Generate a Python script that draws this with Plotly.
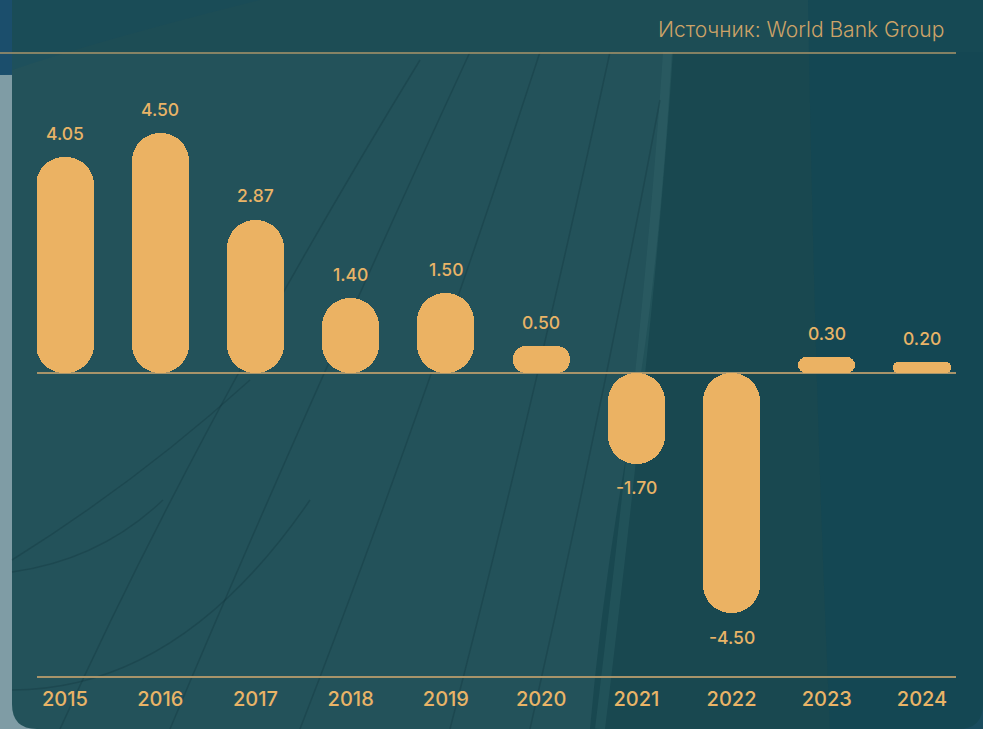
import plotly.graph_objects as go

# Data
years = ["2015", "2016", "2017", "2018", "2019", "2020", "2021", "2022", "2023", "2024"]
values = [4.05, 4.50, 2.87, 1.40, 1.50, 0.50, -1.70, -4.50, 0.30, 0.20]
source_text = "Источник: World Bank Group"

# Canvas / layout geometry (pixels)
W, H = 983, 729
L, R, T, B = 37, 27, 53, 53
PW, PH = W - L - R, H - T - B
Y_RANGE = [-5.68, 6.0]
X_RANGE = [-0.294, 9.357]
BAR_W = 0.6

BAR_COLOR = "#EBB263"
TEXT_COLOR = "#E9B467"
LINE_COLOR = "#A8946A"
FONT = "Inter"

px_per_y = PH / (Y_RANGE[1] - Y_RANGE[0])
px_per_x = PW / (X_RANGE[1] - X_RANGE[0])
bar_px = BAR_W * px_per_x


def fx(x):
    return (x - L) / PW


def fy(y):
    return (T + PH - y) / PH


def path(points, close=True):
    s = "M {:.5f},{:.5f}".format(fx(points[0][0]), fy(points[0][1]))
    for p in points[1:]:
        if len(p) == 4:
            s += " Q {:.5f},{:.5f} {:.5f},{:.5f}".format(fx(p[0]), fy(p[1]), fx(p[2]), fy(p[3]))
        else:
            s += " L {:.5f},{:.5f}".format(fx(p[0]), fy(p[1]))
    return s + (" Z" if close else "")


fig = go.Figure()

# Pill-shaped bars: an explicit base makes both ends rounded
for yr, v in zip(years, values):
    r = min(bar_px / 2, abs(v) * px_per_y / 2)
    fig.add_trace(go.Bar(
        x=[yr],
        y=[v],
        base=[0],
        width=BAR_W,
        marker=dict(color=BAR_COLOR, line=dict(width=0), cornerradius=r),
        hoverinfo="skip",
        showlegend=False,
    ))

# Value labels
for i, v in enumerate(values):
    fig.add_annotation(
        x=i, y=v, text=f"{v:.2f}", showarrow=False,
        yshift=24 if v > 0 else -24, yanchor="middle",
        font=dict(family=FONT, size=17.5, color=TEXT_COLOR, weight=500),
    )

# Source caption
fig.add_annotation(
    xref="paper", yref="paper", x=fx(946), y=fy(30), xanchor="right", yanchor="middle",
    text=source_text, showarrow=False,
    font=dict(family=FONT, size=21, color="#CDA368", weight=300),
)

shapes = []
# Backdrop outside the panel
shapes.append(dict(type="path", xref="paper", yref="paper", layer="below",
                   path=path([(0, 0), (983, 0), (983, 70), (0, 75)]),
                   fillcolor="#1B4E6C", line=dict(width=0)))
shapes.append(dict(type="path", xref="paper", yref="paper", layer="below",
                   path=path([(940, 640), (983, 640), (983, 729), (940, 729)]),
                   fillcolor="#3E6F9A", line=dict(width=0)))
# Panel
shapes.append(dict(type="path", xref="paper", yref="paper", layer="below",
                   path=path([(12, 0), (983, 0), (983, 704), (983, 729, 958, 729),
                              (37, 729), (12, 729, 12, 704)]),
                   fillcolor="#23525A", line=dict(width=0)))
# Bluish top-left corner of the panel
shapes.append(dict(type="path", xref="paper", yref="paper", layer="below",
                   path=path([(12, 0), (260, 0), (100, 40, 12, 70)]),
                   fillcolor="rgba(20,75,100,0.3)", line=dict(width=0)))
# Top band, slightly darker
shapes.append(dict(type="path", xref="paper", yref="paper", layer="below",
                   path=path([(12, 0), (983, 0), (983, 52), (12, 52)]),
                   fillcolor="rgba(20,70,78,0.35)", line=dict(width=0)))
# Arch region
shapes.append(dict(type="path", xref="paper", yref="paper", layer="below",
                   path=path([(672, 52), (660, 250, 640, 380), (605, 560, 590, 729),
                              (983, 729), (983, 52)]),
                   fillcolor="rgba(16,62,70,0.5)", line=dict(width=0)))
# Right region, bluer
shapes.append(dict(type="path", xref="paper", yref="paper", layer="below",
                   path=path([(808, 0), (815, 400, 830, 729), (983, 729), (983, 0)]),
                   fillcolor="rgba(18,70,85,0.65)", line=dict(width=0)))
# Light edge of the arch
shapes.append(dict(type="path", xref="paper", yref="paper", layer="below",
                   path=path([(668, 52), (652, 300, 600, 729)], close=False),
                   line=dict(color="rgba(60,110,115,0.25)", width=10)))

# Faint facade curves
curves = [
    [(12, 560), (140, 480, 250, 380)],
    [(12, 572), (100, 560, 163, 500)],
    [(12, 690), (180, 690, 310, 500)],
    [(60, 729), (200, 420, 420, 60)],
    [(170, 729), (300, 420, 470, 52)],
    [(300, 729), (420, 420, 540, 52)],
    [(450, 729), (530, 420, 610, 52)],
    [(530, 729), (600, 420, 660, 100)],
]
for c in curves:
    shapes.append(dict(type="path", xref="paper", yref="paper", layer="below",
                       path=path(c, close=False),
                       line=dict(color="rgba(10,45,50,0.25)", width=1.5)))

# Top rule
shapes.append(dict(type="line", xref="paper", yref="paper",
                   x0=fx(0), x1=1, y0=1, y1=1,
                   line=dict(color=LINE_COLOR, width=1.5)))

fig.update_layout(
    width=W, height=H,
    margin=dict(l=L, r=R, t=T, b=B),
    paper_bgcolor="#7F9CA5",
    plot_bgcolor="rgba(0,0,0,0)",
    barmode="overlay",
    bargap=0,
    shapes=shapes,
    xaxis=dict(
        type="category", range=X_RANGE, showgrid=False, zeroline=False,
        showline=True, linecolor=LINE_COLOR, linewidth=1.5,
        ticks="", ticklabelstandoff=4,
        tickfont=dict(family=FONT, size=20, color=TEXT_COLOR, weight=500),
        fixedrange=True,
    ),
    yaxis=dict(
        range=Y_RANGE, showgrid=False, showticklabels=False,
        zeroline=True, zerolinecolor=LINE_COLOR, zerolinewidth=1.5,
        showline=False, ticks="", fixedrange=True,
    ),
)

fig.write_html("out.html")
